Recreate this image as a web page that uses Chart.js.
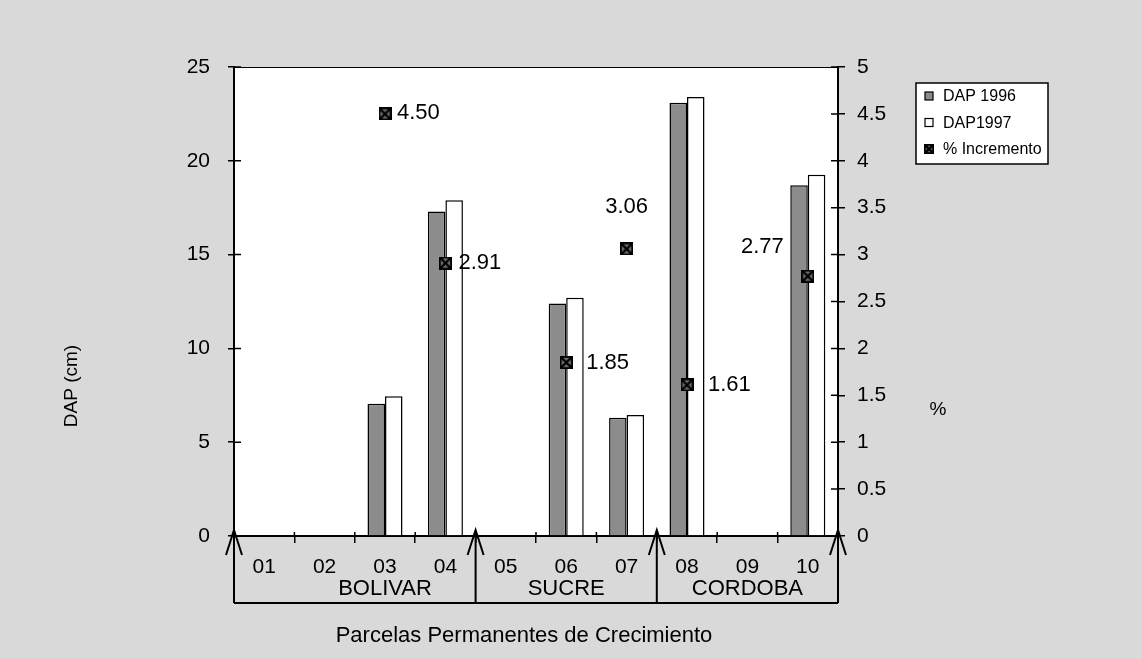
<!DOCTYPE html>
<html>
<head>
<meta charset="utf-8">
<script src="https://cdn.jsdelivr.net/npm/chart.js@4.4.1/dist/chart.umd.min.js"></script>
<style>
    html, body { margin: 0; padding: 0; background: #d9d9d9; }
    canvas { display: block; }
</style>
</head>
<body>
<canvas id="dapChart" width="1142" height="659"></canvas>
<script>
// Plot categories (parcelas) and values
const categories = ['01', '02', '03', '04', '05', '06', '07', '08', '09', '10'];
const dap1996 = [null, null, 7.05, 17.3, null, 12.4, 6.3, 23.1, null, 18.7];
const dap1997 = [null, null, 7.45, 17.9, null, 12.7, 6.45, 23.4, null, 19.25];
const incremento = [null, null, 4.50, 2.91, null, 1.85, 3.06, 1.61, null, 2.77];

// Departments and the category indexes each one covers
const departments = ['BOLIVAR', 'SUCRE', 'CORDOBA'];
const departmentFirst = [0, 4, 7];
const departmentLast = [3, 6, 9];

const leftMax = 25;
const leftStep = 5;
const rightMax = 5;
const rightStep = 0.5;

document.addEventListener('DOMContentLoaded', () => {
    const ctx = document.getElementById('dapChart').getContext('2d');
    const FONT = '"Liberation Sans", Arial, Helvetica, sans-serif';
    const GRAY = '#8c8c8c';

    // little boxed-X marker used for % Incremento
    const makeMarker = (size) => {
        const c = document.createElement('canvas');
        c.width = size; c.height = size;
        const g = c.getContext('2d');
        g.fillStyle = '#6e6e6e';
        g.fillRect(0, 0, size, size);
        g.strokeStyle = '#000';
        g.lineWidth = 2.4;
        g.beginPath();
        g.moveTo(1, 1); g.lineTo(size - 1, size - 1);
        g.moveTo(size - 1, 1); g.lineTo(1, size - 1);
        g.stroke();
        g.lineWidth = 1.8;
        g.strokeRect(0.9, 0.9, size - 1.8, size - 1.8);
        return c;
    };
    const marker = makeMarker(13);
    const legendMarker = makeMarker(10);

    // where each % label sits relative to its marker
    const labelPlace = {
        2: { dx: 12, dy: -1, align: 'left' },
        3: { dx: 13, dy: 0, align: 'left' },
        5: { dx: 20, dy: 0, align: 'left' },
        6: { dx: 0, dy: -42, align: 'center' },
        7: { dx: 21, dy: 0, align: 'left' },
        9: { dx: -24, dy: -29, align: 'right' },
    };

    const decorations = {
        id: 'decorations',
        beforeDraw(chart) {
            const { ctx, chartArea: a } = chart;
            ctx.save();
            ctx.fillStyle = '#fff';
            ctx.fillRect(a.left, a.top, a.right - a.left, a.bottom - a.top);
            ctx.restore();
        },
        afterDraw(chart) {
            const { ctx, chartArea: a, scales } = chart;
            const x = scales.x, y = scales.y, y1 = scales.y1;
            ctx.save();

            // top frame line
            ctx.strokeStyle = '#000';
            ctx.lineWidth = 1;
            ctx.beginPath();
            ctx.moveTo(a.left, a.top + 0.5);
            ctx.lineTo(a.right, a.top + 0.5);
            ctx.stroke();

            // inner half of the tick marks
            ctx.lineWidth = 1.5;
            ctx.beginPath();
            y.ticks.forEach((t) => {
                const py = y.getPixelForValue(t.value);
                ctx.moveTo(a.left, py); ctx.lineTo(a.left + 7, py);
            });
            y1.ticks.forEach((t) => {
                const py = y1.getPixelForValue(t.value);
                ctx.moveTo(a.right - 7, py); ctx.lineTo(a.right, py);
            });
            const catW = (x.right - x.left) / categories.length;
            for (let i = 1; i < categories.length; i++) {
                const bx = x.left + i * catW;
                ctx.moveTo(bx, a.bottom - 4); ctx.lineTo(bx, a.bottom);
            }
            ctx.stroke();

            // department bracket under the axis
            const bottomY = a.bottom + 67;
            const bounds = [...departmentFirst, categories.length];
            ctx.lineWidth = 2;
            ctx.beginPath();
            bounds.forEach((i) => {
                const bx = x.left + i * catW;
                ctx.moveTo(bx, a.bottom - 6);
                ctx.lineTo(bx, bottomY);
                // arrow head
                ctx.moveTo(bx - 8, a.bottom + 19);
                ctx.lineTo(bx, a.bottom - 6);
                ctx.lineTo(bx + 8, a.bottom + 19);
            });
            ctx.moveTo(x.left, bottomY);
            ctx.lineTo(x.left + categories.length * catW, bottomY);
            ctx.stroke();

            ctx.fillStyle = '#000';
            ctx.font = `22px ${FONT}`;
            ctx.textAlign = 'center';
            ctx.textBaseline = 'middle';
            const labelAt = [2, 5, 8];
            departments.forEach((name, k) => {
                ctx.fillText(name, x.getPixelForValue(labelAt[k]), a.bottom + 53);
            });

            // axis titles
            ctx.font = `22px ${FONT}`;
            ctx.fillText('Parcelas Permanentes de Crecimiento', 524, 636);
            ctx.font = `19px ${FONT}`;
            ctx.fillText('%', 938, 410);
            ctx.save();
            ctx.translate(72, 386);
            ctx.rotate(-Math.PI / 2);
            ctx.fillText('DAP (cm)', 0, 0);
            ctx.restore();

            // % labels next to the markers
            const meta = chart.getDatasetMeta(2);
            ctx.font = `22px ${FONT}`;
            meta.data.forEach((pt, i) => {
                if (incremento[i] === null) return;
                const p = labelPlace[i] || { dx: 12, dy: 0, align: 'left' };
                ctx.textAlign = p.align;
                ctx.fillText(incremento[i].toFixed(2), pt.x + p.dx, pt.y + p.dy);
            });

            // legend box
            const lx = 916, ly = 83, lw = 132, lh = 81;
            ctx.fillStyle = '#fff';
            ctx.fillRect(lx, ly, lw, lh);
            ctx.lineWidth = 1.5;
            ctx.strokeStyle = '#000';
            ctx.strokeRect(lx, ly, lw, lh);
            const rows = [
                { text: 'DAP 1996', fill: GRAY },
                { text: 'DAP1997', fill: '#fff' },
                { text: '% Incremento', img: legendMarker },
            ];
            ctx.font = `16px ${FONT}`;
            ctx.textAlign = 'left';
            rows.forEach((r, k) => {
                const cy = ly + 13 + k * 26.5;
                if (r.img) {
                    ctx.drawImage(r.img, lx + 8, cy - 5);
                } else {
                    ctx.fillStyle = r.fill;
                    ctx.fillRect(lx + 9, cy - 4, 8, 8);
                    ctx.lineWidth = 1.2;
                    ctx.strokeRect(lx + 9, cy - 4, 8, 8);
                }
                ctx.fillStyle = '#000';
                ctx.fillText(r.text, lx + 27, cy + 1);
            });

            ctx.restore();
        },
    };

    const tickFont = { family: FONT, size: 21 };

    new Chart(ctx, {
        type: 'bar',
        data: {
            labels: categories,
            datasets: [
                {
                    label: 'DAP 1996',
                    data: dap1996,
                    backgroundColor: GRAY,
                    borderColor: '#000',
                    borderWidth: 1.5,
                    borderSkipped: 'bottom',
                    yAxisID: 'y',
                    order: 1,
                },
                {
                    label: 'DAP1997',
                    data: dap1997,
                    backgroundColor: '#fff',
                    borderColor: '#000',
                    borderWidth: 1.5,
                    borderSkipped: 'bottom',
                    yAxisID: 'y',
                    order: 1,
                },
                {
                    type: 'line',
                    label: '% Incremento',
                    data: incremento,
                    showLine: false,
                    pointStyle: marker,
                    pointRadius: 6,
                    yAxisID: 'y1',
                    order: 0,
                },
            ],
        },
        options: {
            responsive: false,
            devicePixelRatio: 1,
            animation: false,
            events: [],
            layout: { padding: { top: 67, left: 0, right: 0, bottom: 0 } },
            datasets: {
                bar: { categoryPercentage: 0.58, barPercentage: 1.0 },
            },
            plugins: {
                legend: { display: false },
                tooltip: { enabled: false },
            },
            scales: {
                x: {
                    afterFit: (s) => { s.height = 659 - 536; },
                    grid: { drawOnChartArea: false, tickLength: 7, color: '#000', lineWidth: 1.5, offset: true },
                    border: { display: true, color: '#000', width: 2 },
                    ticks: { color: '#000', font: { family: FONT, size: 21 }, padding: 12, maxRotation: 0 },
                },
                y: {
                    position: 'left',
                    min: 0,
                    max: leftMax,
                    afterFit: (s) => { s.width = 234; },
                    grid: { drawOnChartArea: false, tickLength: 6, color: '#000', lineWidth: 1.5 },
                    border: { display: true, color: '#000', width: 2 },
                    ticks: { stepSize: leftStep, color: '#000', font: tickFont, padding: 18 },
                },
                y1: {
                    position: 'right',
                    min: 0,
                    max: rightMax,
                    afterFit: (s) => { s.width = 1142 - 838; },
                    grid: { drawOnChartArea: false, tickLength: 7, color: '#000', lineWidth: 1.5 },
                    border: { display: true, color: '#000', width: 2 },
                    ticks: {
                        stepSize: rightStep,
                        color: '#000',
                        font: tickFont,
                        padding: 12,
                        callback: (v) => String(v),
                    },
                },
            },
        },
        plugins: [decorations],
    });
});
</script>
</body>
</html>
